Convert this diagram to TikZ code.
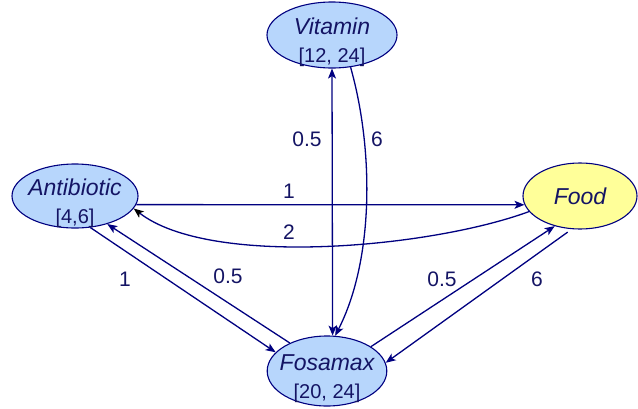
\documentclass[tikz,border=0pt]{standalone}
\usepackage{fontspec}
\setmainfont{Liberation Sans}
\usetikzlibrary{arrows.meta,shapes.geometric}
\definecolor{navy}{RGB}{0,0,128}
\definecolor{txt}{RGB}{20,20,100}
\definecolor{nodeblue}{RGB}{183,214,252}
\definecolor{nodeyellow}{RGB}{255,255,153}
\newcommand{\nmtxt}[1]{\rule{0pt}{31pt}{\fontsize{23}{28}\selectfont\itshape #1}}
\begin{document}
\begin{tikzpicture}[x=1pt,y=-1pt,
  blob/.style={ellipse, draw=navy, line width=1.1pt, inner xsep=-5pt, inner ysep=-10pt,
    align=center, text=txt, font=\fontsize{20}{28}\selectfont},
  link/.style={draw=navy, line width=1.3pt, -{Stealth[length=10pt,width=8pt,inset=2.5pt]}},
  lbl/.style={text=txt, font=\fontsize{21}{24}\selectfont, inner sep=0pt}]
\useasboundingbox (0,0) rectangle (638,408);
% nodes
\node[blob, fill=nodeblue, minimum width=130pt, minimum height=66pt] (V) at (332,35)
  {\nmtxt{Vitamin}\\{}[12, 24]};
\node[blob, fill=nodeblue, minimum width=126pt, minimum height=64pt] (A) at (75,196)
  {\nmtxt{Antibiotic}\\{}[4,6]};
\node[blob, fill=nodeyellow, inner ysep=0pt, minimum width=114pt, minimum height=66pt] (F) at (580,196)
  {{\fontsize{23}{28}\selectfont\itshape Food}};
\node[blob, fill=nodeblue, minimum width=118pt, minimum height=70pt] (X) at (327,371)
  {\nmtxt{Fosamax}\\{}[20, 24]};
% connectors
\draw[link] (A.-8.5) -- (F.189.3);
\draw[link, -{Stealth[length=10pt,width=8pt,inset=2.5pt,color=black]}]
  (F.197) .. controls (430,248) and (210,268) .. (A.-12);
\draw[link, {Stealth[length=10pt,width=8pt,inset=2.5pt]}-{Stealth[length=10pt,width=8pt,inset=2.5pt]}]
  (V.south) -- (X.81);
\draw[link] (V.-60) .. controls (374,150) and (374,260) .. (X.77);
\draw[link] (A.-64) -- (X.160);
\draw[link] (X.143) -- (A.-41);
\draw[link] (X.29) -- (F.230);
\draw[link, shorten <=5pt] (F.256) -- (X.8);
% labels
\node[lbl] (l1) at (307,139) {0.5};
\node[lbl] (l2) at (377,139) {6};
\node[lbl] (l3) at (289,191) {1};
\node[lbl] (l4) at (289,232) {2};
\node[lbl] (l5) at (125,279) {1};
\node[lbl] (l6) at (228,276) {0.5};
\node[lbl] (l7) at (442,279) {0.5};
\node[lbl] (l8) at (537,279) {6};
\end{tikzpicture}
\end{document}
